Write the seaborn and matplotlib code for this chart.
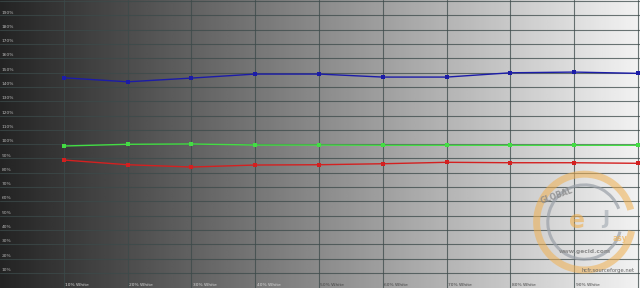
import numpy as np
import pandas as pd
import matplotlib
matplotlib.use("Agg")
import matplotlib.pyplot as plt
from matplotlib.patches import Arc
import seaborn as sns

levels = [10, 20, 30, 40, 50, 60, 70, 80, 90, 100]
red = [88.9, 85.6, 84.0, 85.4, 85.6, 86.3, 87.3, 87.0, 87.0, 86.6]
green = [98.7, 99.9, 100.1, 99.4, 99.4, 99.2, 99.2, 99.2, 99.2, 99.2]
blue = [146.4, 143.6, 146.2, 149.0, 149.0, 146.9, 146.9, 149.9, 150.4, 149.5]
y_ticks = [10, 20, 30, 40, 50, 60, 70, 80, 90, 100, 110, 120, 130, 140, 150, 160, 170, 180, 190]
y_labels = [f"{v}%" for v in y_ticks]
x_labels = [f"{v}% White" for v in levels[:-1]]

df = pd.DataFrame({
    "level": levels * 3,
    "value": red + green + blue,
    "channel": ["Red"] * 10 + ["Green"] * 10 + ["Blue"] * 10,
})

sns.set_theme(style="white")
fig = plt.figure(figsize=(6.4, 2.88), dpi=100)
ax = fig.add_axes([0, 0, 1, 1])
ax.set_xlim(0, 100.3)
ax.set_ylim(-0.6, 200.8)

# gradient background
grad = np.linspace(0.14, 0.95, 256)[None, :]
ax.imshow(grad, cmap="gray", vmin=0, vmax=1, aspect="auto",
          extent=[0, 100.3, -0.6, 200.8], zorder=0)

for v in range(10, 201, 10):
    ax.axhline(v, color="#3c4a4a", lw=0.8, alpha=0.75, zorder=1)
for v in range(10, 101, 10):
    ax.axvline(v, color="#3c4a4a", lw=0.8, alpha=0.75, zorder=1)

palette = {"Red": "#d42020", "Green": "#44dd44", "Blue": "#1c1ca8"}
sns.lineplot(data=df, x="level", y="value", hue="channel", palette=palette,
             marker="s", markersize=3, markeredgewidth=0, lw=1.0,
             legend=False, ax=ax, zorder=3)

for v, lab in zip(y_ticks, y_labels):
    ax.text(0.3, v + 0.6, lab, fontsize=3.2, color="#b8b8b8", ha="left", va="bottom", zorder=4)
for v, lab in zip(levels[:-1], x_labels):
    c = "#d8d8d8" if v < 50 else "#444444"
    ax.text(v + 0.2, 1.6, lab, fontsize=3.2, color=c, ha="left", va="center", zorder=4)

# watermark
cx, cy = 91.6, 45.5
ax.add_patch(Arc((cx, cy), 15, 67, theta1=50, theta2=320, color="#f0b050", lw=5, alpha=0.55, zorder=2))
ax.add_patch(Arc((cx, cy), 11.5, 52, theta1=60, theta2=310, color="#9aa0a8", lw=2.2, alpha=0.7, zorder=2))
ax.text(87.2, 63.5, "GLOBAL", fontsize=5.5, color="#8a8a8a", rotation=20, fontweight="bold",
        alpha=0.8, ha="center", va="center", zorder=2)
ax.text(90.5, 46, "e", fontsize=17, color="#f0b050", fontweight="bold", alpha=0.6,
        ha="center", va="center", zorder=2)
ax.text(95.0, 48, "J", fontsize=14, color="#a0a8b0", fontweight="bold", alpha=0.6,
        ha="center", va="center", zorder=2)
ax.text(96.0, 34, "asy", fontsize=5.5, color="#f0b050", fontweight="bold", alpha=0.7,
        ha="left", va="center", zorder=2)
ax.text(87.5, 25, "www.gecid.com", fontsize=4.2, color="#8a8a8a", fontweight="bold",
        ha="left", va="center", zorder=2)
ax.text(99.5, 10.5, "hcfr.sourceforge.net", fontsize=3.8, color="#666666", ha="right", zorder=2)

ax.set_axis_off()
fig.savefig("out.png", dpi=100)
